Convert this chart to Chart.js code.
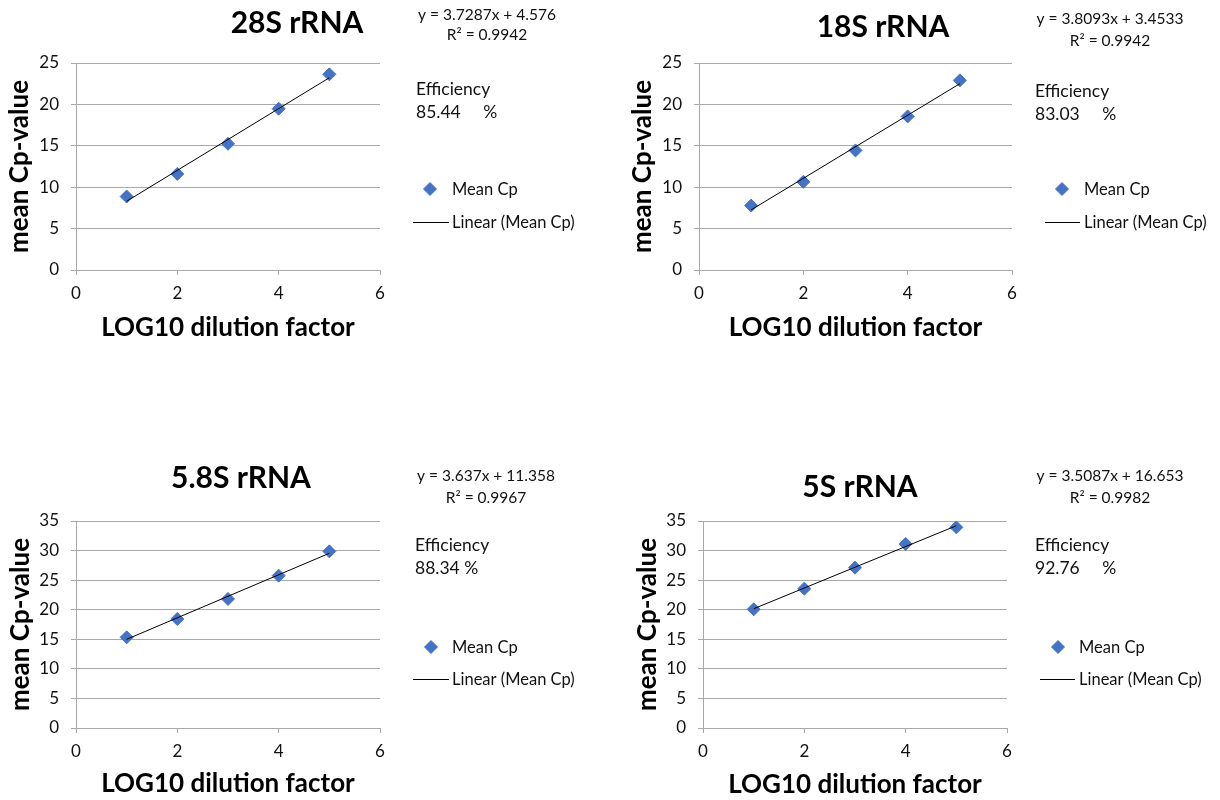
<!DOCTYPE html>
<html>
<head>
<meta charset="utf-8">
<title>rRNA standard curves</title>
<script src="https://cdn.jsdelivr.net/npm/chart.js@4/dist/chart.umd.min.js"></script>
<style>
  html, body { margin: 0; padding: 0; background: #fff; }
  #board { position: relative; width: 1220px; height: 800px; overflow: hidden; background: #fff; }
  #board canvas { position: absolute; }
</style>
</head>
<body>
<div id="board">
  <canvas id="c28" width="610" height="346" style="left:0;top:0"></canvas>
  <canvas id="c18" width="610" height="346" style="left:610px;top:0"></canvas>
  <canvas id="c58" width="610" height="346" style="left:0;top:455px"></canvas>
  <canvas id="c5" width="610" height="346" style="left:610px;top:455px"></canvas>
</div>
<script>
// Standard-curve data: mean Cp per LOG10 dilution step
const dilutionLog10 = [1, 2, 3, 4, 5];
const cp28S = [8.87, 11.6, 15.24, 19.48, 23.63];
const cp18S = [7.78, 10.65, 14.44, 18.55, 22.9];
const cp58S = [15.33, 18.43, 21.82, 25.76, 29.87];
const cp5S = [20.07, 23.56, 27.11, 31.11, 33.93];

const panelTitles = ['28S rRNA', '18S rRNA', '5.8S rRNA', '5S rRNA'];
const cpSeries = [cp28S, cp18S, cp58S, cp5S];

// Linear trendline fit for each curve
const slopes = [3.7287, 3.8093, 3.637, 3.5087];
const intercepts = ['4.576', '3.4533', '11.358', '16.653'];
const rSquared = ['0.9942', '0.9942', '0.9967', '0.9982'];
const efficiencyLabels = ['85.44     %', '83.03     %', '88.34 %', '92.76     %'];

// Axis ranges and ticks
const xAxisMax = 6;
const xTickStep = 2;
const yAxisMax = [25, 25, 35, 35];
const yTickStep = 5;

const xAxisLabel = 'LOG10 dilution factor';
const yAxisLabel = 'mean Cp-value';
const pointLabel = 'Mean Cp';
const trendLabel = 'Linear (Mean Cp)';

// Layout of each canvas (canvas-local pixels)
const layouts = [
  { id: 'c28', area: { l: 76, r: 380, t: 63, b: 270 }, yTitleX: 20, xTitleY: 328,
    title: { x: 297, y: 33 }, eq: { x: 487, y1: 20, y2: 40 }, eff: { x: 416, y1: 95, y2: 118 },
    legend: { markX: 430, textX: 452, y1: 189, lineX0: 413, lineX1: 449, y2: 222 } },
  { id: 'c18', area: { l: 89, r: 402, t: 63, b: 270 }, yTitleX: 33, xTitleY: 328,
    title: { x: 273, y: 37 }, eq: { x: 500, y1: 24, y2: 46 }, eff: { x: 425, y1: 97, y2: 120 },
    legend: { markX: 452, textX: 474, y1: 189, lineX0: 435, lineX1: 470, y2: 222 } },
  { id: 'c58', area: { l: 76, r: 380, t: 66, b: 273 }, yTitleX: 20.5, xTitleY: 329,
    title: { x: 241, y: 33 }, eq: { x: 486, y1: 26, y2: 48 }, eff: { x: 415, y1: 96, y2: 119 },
    legend: { markX: 431, textX: 452, y1: 192, lineX0: 413, lineX1: 449, y2: 224 } },
  { id: 'c5', area: { l: 93, r: 397, t: 66, b: 273 }, yTitleX: 38, xTitleY: 330,
    title: { x: 250, y: 42 }, eq: { x: 500, y1: 26, y2: 48 }, eff: { x: 425, y1: 96, y2: 119 },
    legend: { markX: 448, textX: 469, y1: 192, lineX0: 430, lineX1: 465, y2: 224 } }
];

const FONT = 'Lato, "Open Sans", "Liberation Sans", sans-serif';
const MARK_BLUE = '#4472C4';
const GRID_GREY = '#a9a9a9';
const TEXT_COLOR = '#111';
const CANVAS_W = 610, CANVAS_H = 346;
const AXIS_TITLE_SIZE = 26;
const AXIS_TITLE_HALF = AXIS_TITLE_SIZE * 1.2 / 2;

function diamond(ctx, x, y, r) {
  ctx.beginPath();
  ctx.moveTo(x - r, y);
  ctx.lineTo(x, y - r);
  ctx.lineTo(x + r, y);
  ctx.lineTo(x, y + r);
  ctx.closePath();
  ctx.fill();
  ctx.stroke();
}

// Draws panel title, fit equation, efficiency and the side legend
const panelNotes = {
  id: 'panelNotes',
  afterDraw(chart, args, o) {
    const ctx = chart.ctx;
    ctx.save();
    ctx.fillStyle = '#000';
    ctx.textBaseline = 'alphabetic';

    ctx.textAlign = 'center';
    ctx.font = 'bold 30px ' + FONT;
    ctx.fillText(o.title, o.lay.title.x, o.lay.title.y);

    ctx.font = '15.5px ' + FONT;
    ctx.fillStyle = TEXT_COLOR;
    ctx.fillText(o.equation, o.lay.eq.x, o.lay.eq.y1);
    ctx.fillText(o.r2, o.lay.eq.x, o.lay.eq.y2);

    ctx.textAlign = 'left';
    ctx.font = '17.5px ' + FONT;
    ctx.fillText('Efficiency', o.lay.eff.x, o.lay.eff.y1);
    ctx.fillText(o.efficiency, o.lay.eff.x, o.lay.eff.y2);

    // legend built from the datasets
    const ds = chart.data.datasets;
    const lg = o.lay.legend;
    ctx.font = '16.5px ' + FONT;
    ctx.textBaseline = 'middle';
    ctx.fillStyle = ds[1].backgroundColor;
    ctx.strokeStyle = ds[1].borderColor;
    ctx.lineWidth = 1;
    diamond(ctx, lg.markX, lg.y1, 6.5);
    ctx.fillStyle = TEXT_COLOR;
    ctx.fillText(ds[1].label, lg.textX, lg.y1 + 1);

    ctx.strokeStyle = ds[0].borderColor;
    ctx.lineWidth = 1;
    ctx.beginPath();
    ctx.moveTo(lg.lineX0, lg.y2 + 0.5);
    ctx.lineTo(lg.lineX1, lg.y2 + 0.5);
    ctx.stroke();
    ctx.fillText(ds[0].label, lg.textX, lg.y2 + 1);
    ctx.restore();
  }
};

layouts.forEach((lay, i) => {
  const values = cpSeries[i];
  const points = dilutionLog10.map((x, k) => ({ x: x, y: values[k] }));
  const b = parseFloat(intercepts[i]);
  const x0 = dilutionLog10[0];
  const x1 = dilutionLog10[dilutionLog10.length - 1];
  const trend = [
    { x: x0, y: slopes[i] * x0 + b },
    { x: x1, y: slopes[i] * x1 + b }
  ];

  const padLeft = lay.yTitleX - AXIS_TITLE_HALF;
  const yWidth = lay.area.l - padLeft;
  const xBottom = lay.xTitleY + AXIS_TITLE_HALF;
  const xHeight = xBottom - lay.area.b;

  new Chart(document.getElementById(lay.id), {
    type: 'scatter',
    data: {
      datasets: [
        {
          label: trendLabel,
          data: trend,
          showLine: true,
          borderColor: '#000',
          borderWidth: 1,
          pointRadius: 0,
          pointHoverRadius: 0,
          fill: false,
          order: 0
        },
        {
          label: pointLabel,
          data: points,
          pointStyle: 'rectRot',
          pointRadius: 6.5,
          pointHoverRadius: 6.5,
          backgroundColor: MARK_BLUE,
          borderColor: MARK_BLUE,
          borderWidth: 1,
          order: 1
        }
      ]
    },
    options: {
      responsive: false,
      animation: false,
      devicePixelRatio: 1,
      layout: {
        padding: { left: padLeft, right: CANVAS_W - lay.area.r, top: lay.area.t, bottom: CANVAS_H - xBottom }
      },
      plugins: {
        legend: { display: false },
        tooltip: { enabled: false },
        panelNotes: {
          lay: lay,
          title: panelTitles[i],
          equation: 'y = ' + slopes[i] + 'x + ' + intercepts[i],
          r2: 'R\u00B2 = ' + rSquared[i],
          efficiency: efficiencyLabels[i]
        }
      },
      scales: {
        x: {
          type: 'linear',
          min: 0,
          max: xAxisMax,
          afterFit(scale) { scale.height = xHeight; },
          ticks: { stepSize: xTickStep, padding: 8, color: TEXT_COLOR, font: { family: FONT, size: 17 } },
          grid: { drawOnChartArea: false, drawTicks: true, tickLength: 5, color: GRID_GREY },
          border: { display: true, color: GRID_GREY, width: 1 },
          title: { display: true, text: xAxisLabel, color: '#000', padding: 0,
                   font: { family: FONT, size: AXIS_TITLE_SIZE, weight: 'bold' } }
        },
        y: {
          type: 'linear',
          min: 0,
          max: yAxisMax[i],
          afterFit(scale) { scale.width = yWidth; },
          ticks: { stepSize: yTickStep, padding: 12, color: TEXT_COLOR, font: { family: FONT, size: 17 } },
          grid: { drawTicks: true, tickLength: 5, color: GRID_GREY },
          border: { display: true, color: GRID_GREY, width: 1 },
          title: { display: true, text: yAxisLabel, color: '#000', padding: 0,
                   font: { family: FONT, size: AXIS_TITLE_SIZE, weight: 'bold' } }
        }
      }
    },
    plugins: [panelNotes]
  });
});
</script>
</body>
</html>
